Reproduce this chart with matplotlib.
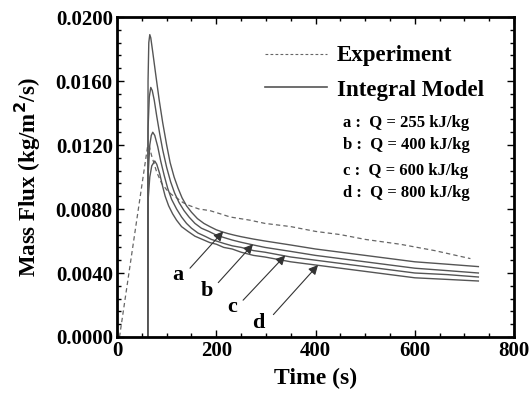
import matplotlib
matplotlib.use("Agg")
import matplotlib.pyplot as plt
from matplotlib.ticker import MultipleLocator, FormatStrFormatter

plt.rcParams['font.family'] = ['Liberation Serif', 'DejaVu Serif']
plt.rcParams['font.weight'] = 'bold'
plt.rcParams['mathtext.default'] = 'bf'

# Experiment (dashed)
exp_t = [5, 62, 65, 70, 80, 90, 100, 110, 120, 133, 147, 165, 187, 208, 228, 248,
         268, 298, 350, 400, 450, 500, 570, 640, 712]
exp_v = [0.0, 0.0120, 0.0119, 0.0113, 0.0103, 0.0096, 0.0092, 0.0089, 0.0087, 0.0084,
         0.0082, 0.0080, 0.0079, 0.0077, 0.0075, 0.0074, 0.0073, 0.0071, 0.0069, 0.0066,
         0.0064, 0.0061, 0.0058, 0.0054, 0.0049]

# Integral model curves
a_t = [62, 62.5, 64, 66, 68, 72, 78, 85, 92, 100, 107, 115, 123, 131, 140, 150, 162,
       175, 187, 200, 212, 224, 237, 250, 275, 298, 350, 400, 450, 500, 550, 600, 665, 728]
a_v = [0.0, 0.0160, 0.0184, 0.0189, 0.0187, 0.0178, 0.0164, 0.0148, 0.0134, 0.0120,
       0.0109, 0.0100, 0.0093, 0.0087, 0.0082, 0.0078, 0.0074, 0.0071, 0.0069, 0.0067,
       0.00657, 0.00646, 0.00636, 0.00627, 0.00612, 0.0060, 0.00575, 0.0055, 0.0053,
       0.0051, 0.0049, 0.0047, 0.00455, 0.0044]

b_t = [62, 62.5, 65, 68, 71, 75, 80, 86, 92, 100, 108, 116, 125, 135, 145, 157, 170,
       185, 198, 215, 232, 250, 275, 298, 350, 400, 450, 500, 550, 600, 665, 728]
b_v = [0.0, 0.0130, 0.0150, 0.0156, 0.0154, 0.0148, 0.0138, 0.0127, 0.0117, 0.0106,
       0.0097, 0.0090, 0.0084, 0.0079, 0.0075, 0.0071, 0.0068, 0.0066, 0.0064, 0.00622,
       0.00606, 0.00592, 0.00575, 0.0056, 0.00535, 0.0051, 0.0049, 0.0047, 0.0045,
       0.0043, 0.00415, 0.0040]

c_t = [62, 62.5, 66, 69, 72, 76, 82, 88, 95, 102, 110, 120, 130, 140, 150, 163, 177,
       190, 200, 215, 232, 250, 275, 298, 350, 400, 450, 500, 550, 600, 665, 728]
c_v = [0.0, 0.0100, 0.0120, 0.0126, 0.0128, 0.0126, 0.0119, 0.0110, 0.0101, 0.0093,
       0.0086, 0.0080, 0.0075, 0.0071, 0.0068, 0.0065, 0.0063, 0.0061, 0.0060, 0.00585,
       0.0057, 0.0056, 0.0054, 0.0053, 0.0050, 0.0048, 0.0046, 0.0044, 0.0042, 0.0040,
       0.0039, 0.00375]

d_t = [62, 62.5, 66, 70, 76, 80, 86, 92, 97, 104, 112, 120, 130, 143, 157, 172, 187,
       200, 215, 232, 250, 275, 298, 350, 400, 450, 500, 550, 600, 665, 728]
d_v = [0.0, 0.0085, 0.0100, 0.0107, 0.0110, 0.0108, 0.0102, 0.0094, 0.0088, 0.0082,
       0.0077, 0.0073, 0.0069, 0.0066, 0.0063, 0.0061, 0.0059, 0.0058, 0.0056, 0.0055,
       0.0053, 0.0051, 0.0050, 0.0047, 0.0045, 0.0043, 0.0041, 0.0039, 0.0037, 0.0036,
       0.0035]

labels = ['a', 'b', 'c', 'd']
label_pos = [(123, 0.0039), (181, 0.0029), (232, 0.0019), (284, 0.0009)]
arrow_tail = [(147, 0.0043), (204, 0.0034), (254, 0.0023), (315, 0.0014)]
arrow_tip = [(214, 0.0066), (274, 0.0058), (339, 0.0051), (405, 0.0045)]

legend_lines = ['a :  Q = 255 kJ/kg', 'b :  Q = 400 kJ/kg',
                'c :  Q = 600 kJ/kg', 'd :  Q = 800 kJ/kg']

fig = plt.figure(figsize=(5.30, 3.93), dpi=100)
ax = fig.add_axes([0.2208, 0.1425, 0.7492, 0.8142])

lc = '#555555'
ax.plot(exp_t, exp_v, linestyle=(0, (3.5, 2.5)), color='#666666', lw=0.9)
for tt, vv in [(a_t, a_v), (b_t, b_v), (c_t, c_v), (d_t, d_v)]:
    ax.plot(tt, vv, color=lc, lw=1.0)

ax.set_xlim(0, 800)
ax.set_ylim(0, 0.02)
ax.xaxis.set_major_locator(MultipleLocator(200))
ax.xaxis.set_minor_locator(MultipleLocator(50))
ax.yaxis.set_major_locator(MultipleLocator(0.004))
ax.yaxis.set_minor_locator(MultipleLocator(0.0008))
ax.yaxis.set_major_formatter(FormatStrFormatter('%.4f'))
ax.tick_params(which='both', direction='in', top=True, right=True, width=1.0)
ax.tick_params(which='major', length=5, labelsize=15, pad=3)
ax.tick_params(which='minor', length=3)
for s in ax.spines.values():
    s.set_linewidth(2.0)

ax.set_xlabel('Time (s)', fontsize=17, fontweight='bold', labelpad=5)
ax.set_ylabel('Mass Flux (kg/m$^2$/s)', fontsize=16.5, fontweight='bold', labelpad=9)

for lab, p, tl, tp in zip(labels, label_pos, arrow_tail, arrow_tip):
    ax.text(p[0], p[1], lab, fontsize=16, fontweight='bold', ha='center', va='center')
    ax.annotate('', xy=tp, xytext=tl,
                arrowprops=dict(arrowstyle='-|>', color='#333333', lw=0.8,
                                mutation_scale=14, shrinkA=0, shrinkB=0))

# legend drawn manually
ax.plot([298, 423], [0.0177, 0.0177], linestyle=(0, (2.5, 2)),
        color='#666666', lw=0.8)
ax.text(443, 0.0176, 'Experiment', fontsize=16.5, fontweight='bold', va='center')
ax.plot([298, 423], [0.0156, 0.0156], color=lc, lw=1.2)
ax.text(443, 0.0154, 'Integral Model', fontsize=16.5, fontweight='bold', va='center')
ys = [0.0134, 0.0120, 0.0104, 0.0090]
for s, y in zip(legend_lines, ys):
    ax.text(455, y, s, fontsize=12, fontweight='bold', va='center')

fig.savefig('out.png', dpi=100)
